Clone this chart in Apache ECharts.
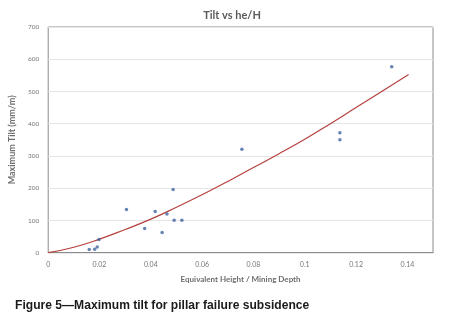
<!DOCTYPE html>
<html>
<head>
<meta charset="utf-8">
<script src="https://cdn.jsdelivr.net/npm/echarts@6/dist/echarts.min.js"></script>
<style>html,body{margin:0;padding:0;background:#fff}#c{width:474px;height:323px}</style>
</head>
<body>
<div id="c"></div>
<script>
// Measured points: equivalent height / mining depth vs maximum tilt (mm/m)
var ratioX = [0.0160, 0.0181, 0.0191, 0.0198, 0.0305, 0.0376, 0.0417, 0.0444, 0.0463, 0.0487, 0.0491, 0.0521, 0.0755, 0.1137, 0.1137, 0.1339];
var tiltY  = [10, 11, 18, 41, 134, 75, 128, 63, 120, 196, 101, 101, 321, 372, 350, 577];
// Trend line
var trendX = [0, 0.01, 0.02, 0.03, 0.04, 0.05, 0.06, 0.07, 0.08, 0.09, 0.10, 0.11, 0.12, 0.13, 0.1405];
var trendY = [0, 17, 42, 72, 104, 141, 180, 221, 264, 307, 352, 400, 450, 500, 553];
var yTicks = [0, 100, 200, 300, 400, 500, 600, 700];

var pts = ratioX.map(function(x, i){ return [x, tiltY[i]]; });
var trend = trendX.map(function(x, i){ return [x, trendY[i]]; });

var chart = echarts.init(document.getElementById('c'), null, {renderer: 'canvas'});
var f = 'Lato, "Open Sans", sans-serif';
chart.setOption({
  animation: false,
  title: {
    text: 'Tilt vs he/H', left: 227, top: 5, textAlign: 'center',
    textStyle: {fontFamily: f, fontSize: 11, fontWeight: 'bold', color: '#5a5a5a'}
  },
  grid: {left: 45.7, right: 41, top: 27, bottom: 70.3, show: true, borderColor: '#8c8c8c', borderWidth: 1, containLabel: false},
  xAxis: {
    type: 'value', min: 0, max: 0.15, interval: 0.02,
    name: 'Equivalent Height / Mining Depth', nameLocation: 'middle', nameGap: 23,
    nameTextStyle: {fontFamily: f, fontSize: 8, fontWeight: 'bold', color: '#6e6e6e'},
    axisLine: {show: true, lineStyle: {color: '#8c8c8c'}},
    axisTick: {show: false},
    splitLine: {show: false},
    axisLabel: {fontFamily: f, fontSize: 7, color: '#777', margin: 9, showMaxLabel: false}
  },
  yAxis: {
    type: 'value', min: yTicks[0], max: yTicks[yTicks.length-1], interval: 100,
    name: 'Maximum Tilt (mm/m)', nameLocation: 'middle', nameGap: 23, nameRotate: 90,
    nameTextStyle: {fontFamily: f, fontSize: 9, fontWeight: 'bold', color: '#6e6e6e'},
    axisLine: {show: false},
    axisTick: {show: false},
    splitLine: {show: true, lineStyle: {color: '#e6e6e6', width: 1}},
    axisLabel: {fontFamily: f, fontSize: 6.5, color: '#777', margin: 9}
  },
  series: [
    {type: 'line', data: trend, smooth: true, showSymbol: false, lineStyle: {color: '#b5413e', width: 1.2}, z: 2},
    {type: 'scatter', data: pts, symbol: 'circle', symbolSize: 3.5, itemStyle: {color: '#3e64a0'}, z: 3}
  ],
  graphic: [{
    type: 'text', x: 15, y: 299, scaleX: 0.93,
    style: {text: 'Figure 5\u2014Maximum tilt for pillar failure subsidence', font: 'bold 13px "Liberation Sans", Arial, sans-serif', fill: '#1a1a1a'}
  }]
});
</script>
</body>
</html>
